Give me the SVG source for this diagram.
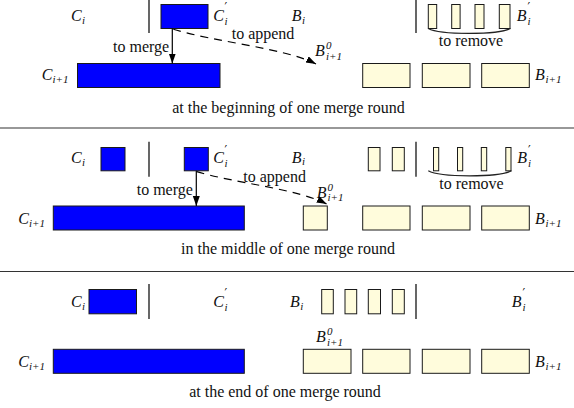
<svg xmlns="http://www.w3.org/2000/svg" width="574" height="408" viewBox="0 0 574 408">
  <defs>
    <marker id="head" markerUnits="userSpaceOnUse" markerWidth="11" markerHeight="8" refX="10" refY="3.5" orient="auto">
      <path d="M0,0 L10,3.5 L0,7 Z" fill="#000"/>
    </marker>
    <style>
      .c { fill: #0000ff; stroke: #1a1a1a; stroke-width: 1; }
      .b { fill: #fffcdc; stroke: #1a1a1a; stroke-width: 1; }
      .sep { stroke: #333; stroke-width: 1.2; }
      .div { stroke: #000; stroke-width: 1.2; }
      .t { font-family: "Liberation Serif", "DejaVu Serif", serif; font-size: 16px; fill: #111; }
      .m { font-family: "Liberation Serif", "DejaVu Serif", serif; font-size: 16px; font-style: italic; fill: #111; }
      .s { font-size: 11px; }
      .p { font-family: "DejaVu Serif", serif; font-size: 12px; font-style: normal; }
      .solid { stroke: #000; stroke-width: 1.2; fill: none; }
      .dash { stroke: #000; stroke-width: 1.2; fill: none; stroke-dasharray: 8 6; }
      .brace { stroke: #222; stroke-width: 1.2; fill: none; }
    </style>
  </defs>
  <rect width="574" height="408" fill="#fff"/>

  <!-- panel separators -->
  <line class="sep" x1="0" y1="128" x2="574" y2="128"/>
  <line class="sep" x1="0" y1="271.5" x2="574" y2="271.5"/>

  <!-- ===== beginning of round ===== -->
  <g id="p1-dividers">
    <line class="div" x1="149" y1="0" x2="149" y2="33"/>
    <line class="div" x1="416" y1="0" x2="416" y2="33"/>
  </g>
  <g id="p1-Ci"><text class="m" x="71" y="20.5">C<tspan class="s" x="82" y="23.5">i</tspan></text></g>
  <g id="p1-Cpi">
    <rect class="c" x="161" y="4.5" width="47" height="24"/>
    <text class="m" x="213.3" y="20.5">C<tspan class="p" x="224.5" y="12">′</tspan><tspan class="s" x="224.5" y="24.5">i</tspan></text>
  </g>
  <g id="p1-Bi"><text class="m" x="291.7" y="20.5">B<tspan class="s" x="302" y="23.5">i</tspan></text></g>
  <g id="p1-Bpi">
    <rect class="b" x="428.3" y="4.5" width="8.4" height="24"/>
    <rect class="b" x="451.7" y="4.5" width="8.4" height="24"/>
    <rect class="b" x="475" y="4.5" width="9" height="24"/>
    <rect class="b" x="499.3" y="4.5" width="10.7" height="24"/>
    <text class="m" x="516.7" y="20.5">B<tspan class="p" x="527.5" y="12">′</tspan><tspan class="s" x="527.5" y="24.5">i</tspan></text>
  </g>
  <g id="p1-Ci1">
    <rect class="c" x="77.5" y="63.5" width="142.5" height="24"/>
    <text class="m" x="41.7" y="80">C<tspan class="s" x="52.5" y="83">i+1</tspan></text>
  </g>
  <g id="p1-B0"><text class="m" x="315" y="56">B<tspan class="s" x="326" y="49">0</tspan><tspan class="s" x="326" y="59.5">i+1</tspan></text></g>
  <g id="p1-Bi1">
    <rect class="b" x="362.7" y="63.5" width="47.3" height="24"/>
    <rect class="b" x="422.3" y="63.5" width="47.7" height="24"/>
    <rect class="b" x="481.7" y="63.5" width="47.6" height="24"/>
    <text class="m" x="535" y="80">B<tspan class="s" x="545.5" y="83">i+1</tspan></text>
  </g>
  <text class="t" x="288.5" y="112.5" text-anchor="middle">at the beginning of one merge round</text>

  <!-- ===== middle of round ===== -->
  <g id="p2-dividers">
    <line class="div" x1="149" y1="141.7" x2="149" y2="176.7"/>
    <line class="div" x1="416" y1="141.7" x2="416" y2="176.7"/>
  </g>
  <g id="p2-Ci">
    <text class="m" x="71" y="163.3">C<tspan class="s" x="82" y="166.3">i</tspan></text>
    <rect class="c" x="101" y="147.5" width="24" height="23.3"/>
  </g>
  <g id="p2-Cpi">
    <rect class="c" x="184.3" y="147.5" width="24" height="23.3"/>
    <text class="m" x="213.3" y="163.3">C<tspan class="p" x="224.5" y="154.8">′</tspan><tspan class="s" x="224.5" y="167.3">i</tspan></text>
  </g>
  <g id="p2-Bi">
    <text class="m" x="291.7" y="162.5">B<tspan class="s" x="302" y="165.3">i</tspan></text>
    <rect class="b" x="368.3" y="147.5" width="11.7" height="23.3"/>
    <rect class="b" x="392.3" y="147.5" width="12" height="23.3"/>
  </g>
  <g id="p2-Bpi">
    <rect class="b" x="433.5" y="147.5" width="5.2" height="23.3"/>
    <rect class="b" x="457.5" y="147.5" width="5.2" height="23.3"/>
    <rect class="b" x="481.3" y="147.5" width="5.4" height="23.3"/>
    <rect class="b" x="505.8" y="147.5" width="5.2" height="23.3"/>
    <text class="m" x="517.3" y="163.3">B<tspan class="p" x="528" y="154.8">′</tspan><tspan class="s" x="528" y="167.3">i</tspan></text>
  </g>
  <g id="p2-Ci1">
    <rect class="c" x="53.3" y="206" width="191" height="24"/>
    <text class="m" x="18.3" y="223.5">C<tspan class="s" x="29" y="226.5">i+1</tspan></text>
  </g>
  <g id="p2-B0">
    <rect class="b" x="303.3" y="206" width="24" height="24"/>
    <text class="m" x="316.7" y="197.5">B<tspan class="s" x="327.5" y="190.5">0</tspan><tspan class="s" x="327.5" y="201">i+1</tspan></text>
  </g>
  <g id="p2-Bi1">
    <rect class="b" x="362.7" y="206" width="47.3" height="24"/>
    <rect class="b" x="422.3" y="206" width="47.7" height="24"/>
    <rect class="b" x="481.7" y="206" width="47.6" height="24"/>
    <text class="m" x="535" y="223.5">B<tspan class="s" x="545.5" y="226.5">i+1</tspan></text>
  </g>
  <text class="t" x="288" y="253.5" text-anchor="middle">in the middle of one merge round</text>

  <!-- ===== end of round ===== -->
  <g id="p3-dividers">
    <line class="div" x1="149" y1="284" x2="149" y2="319"/>
    <line class="div" x1="416" y1="284" x2="416" y2="319"/>
  </g>
  <g id="p3-Ci">
    <text class="m" x="71" y="306.7">C<tspan class="s" x="82" y="309.7">i</tspan></text>
    <rect class="c" x="89" y="289.5" width="47.5" height="24.3"/>
  </g>
  <g id="p3-Cpi"><text class="m" x="213.3" y="306.7">C<tspan class="p" x="224.5" y="298.2">′</tspan><tspan class="s" x="224.5" y="310.7">i</tspan></text></g>
  <g id="p3-Bi">
    <text class="m" x="290" y="306.7">B<tspan class="s" x="300.3" y="309.7">i</tspan></text>
    <rect class="b" x="321.7" y="289.5" width="11.6" height="24.3"/>
    <rect class="b" x="345" y="289.5" width="11.7" height="24.3"/>
    <rect class="b" x="368.3" y="289.5" width="12.2" height="24.3"/>
    <rect class="b" x="392.3" y="289.5" width="12" height="24.3"/>
  </g>
  <g id="p3-Bpi"><text class="m" x="511.7" y="306.7">B<tspan class="p" x="522.5" y="298.2">′</tspan><tspan class="s" x="522.5" y="310.7">i</tspan></text></g>
  <g id="p3-Ci1">
    <rect class="c" x="53.3" y="349.3" width="191" height="24"/>
    <text class="m" x="18.3" y="366.7">C<tspan class="s" x="29" y="369.7">i+1</tspan></text>
  </g>
  <g id="p3-B0"><text class="m" x="316" y="342">B<tspan class="s" x="327" y="335">0</tspan><tspan class="s" x="327" y="345.5">i+1</tspan></text></g>
  <g id="p3-Bi1">
    <rect class="b" x="303.3" y="349.3" width="47.7" height="24"/>
    <rect class="b" x="362.7" y="349.3" width="47.3" height="24"/>
    <rect class="b" x="422.3" y="349.3" width="47.7" height="24"/>
    <rect class="b" x="481.7" y="349.3" width="47.6" height="24"/>
    <text class="m" x="535" y="366.7">B<tspan class="s" x="545.5" y="369.7">i+1</tspan></text>
  </g>
  <text class="t" x="285" y="397" text-anchor="middle">at the end of one merge round</text>

  <!-- connectors -->
  <g id="connectors">
    <path class="solid" d="M172.3,28.5 V63.5" marker-end="url(#head)"/>
    <path class="dash" d="M173.3,29.3 C215,42 285,48 316,64" marker-end="url(#head)"/>
    <path class="brace" d="M428.3,28.5 C440,35 498,35 510.5,28.5"/>
    <path class="solid" d="M196.3,170.8 V206" marker-end="url(#head)"/>
    <path class="dash" d="M196.7,171.7 C235,183 298,189 326.7,204" marker-end="url(#head)"/>
    <path class="brace" d="M428.3,170.8 C440,177.5 499,177.5 511.5,170.8"/>
  </g>
  <g id="connector-labels">
    <text class="t" x="113" y="52">to merge</text>
    <text class="t" x="231.7" y="38.5">to append</text>
    <text class="t" x="471" y="46" text-anchor="middle">to remove</text>
    <text class="t" x="136.7" y="195">to merge</text>
    <text class="t" x="243.3" y="181.5">to append</text>
    <text class="t" x="471.5" y="189.3" text-anchor="middle">to remove</text>
  </g>
</svg>
